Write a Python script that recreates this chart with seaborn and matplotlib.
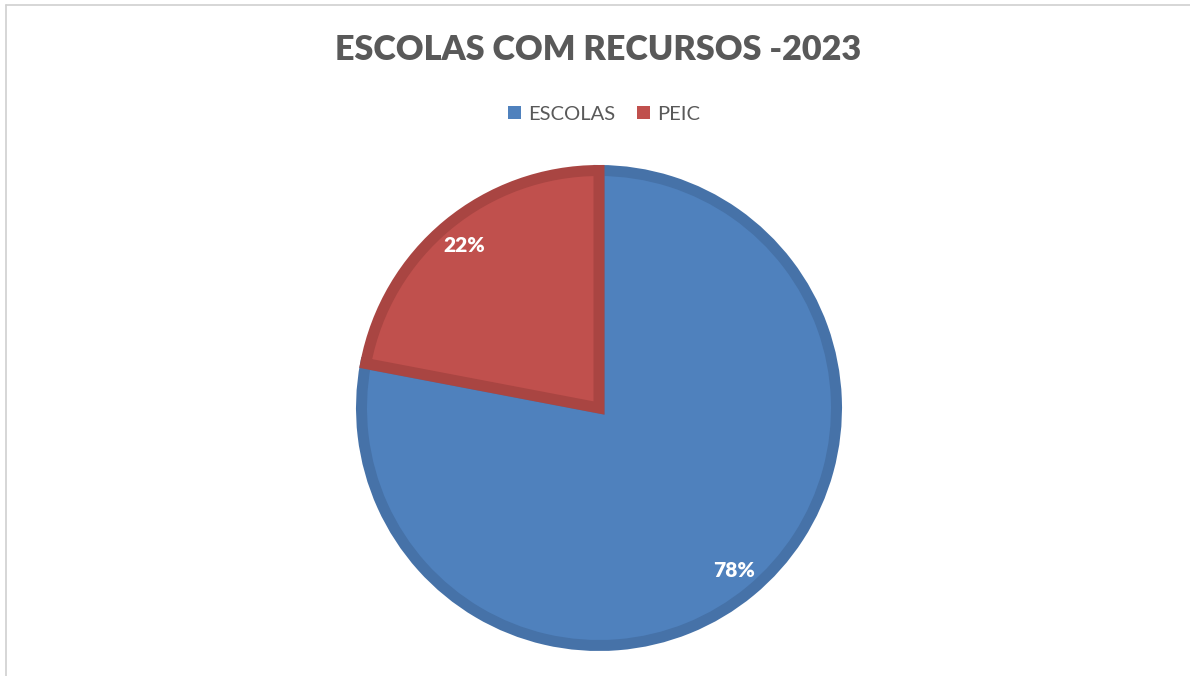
import matplotlib
matplotlib.use("Agg")
import matplotlib.pyplot as plt
import seaborn as sns
from matplotlib.lines import Line2D

categories = ["ESCOLAS", "PEIC"]
values = [78, 22]
title = "ESCOLAS COM RECURSOS -2023"

fill_colors = ["#4F81BD", "#C0504D"]
edge_colors = ["#4672A8", "#A94542"]

sns.set_theme(style="white")
plt.rcParams['font.family'] = ['Lato', 'DejaVu Sans']

W, H = 1190, 676
fig = plt.figure(figsize=(W / 100, H / 100), dpi=100)
fig.patch.set_facecolor("white")

cx, cy, R = 599, 408, 243
ax = fig.add_axes([(cx - R) / W, (H - cy - R) / H, 2 * R / W, 2 * R / H])

stroke_px = 11
r_path = (R - stroke_px / 2) / R
wedges, texts, autotexts = ax.pie(
    values, labels=None, colors=fill_colors, startangle=90, counterclock=False,
    radius=r_path, autopct="%.0f%%", pctdistance=0.87 / r_path,
    wedgeprops=dict(linewidth=stroke_px * 0.72, joinstyle="miter"),
    textprops=dict(color="white", fontsize=15, fontweight="heavy"),
)
for w, ec in zip(wedges, edge_colors):
    w.set_edgecolor(ec)
ax.set_xlim(-1, 1)
ax.set_ylim(-1, 1)
ax.set_aspect("equal")
ax.axis("off")

fig.text(598.5 / W, 1 - 50 / H, title, ha="center", va="center",
         fontsize=24.6, fontweight="heavy", color="#595959")

handles = [plt.Rectangle((0, 0), 1, 1, facecolor=c, edgecolor="none") for c in fill_colors]
fig.legend(handles, categories, loc="center", bbox_to_anchor=(604 / W, 1 - 114 / H),
           ncol=2, frameon=False, fontsize=14.5, labelcolor="#595959",
           handlelength=0.65, handleheight=0.65, handletextpad=0.35, columnspacing=1.1)

# chart frame (top and left edges visible)
fig.add_artist(Line2D([5.5 / W, 1.0], [1 - 4.5 / H, 1 - 4.5 / H], color="#D0D0D0", lw=1.2,
                      transform=fig.transFigure))
fig.add_artist(Line2D([5.5 / W, 5.5 / W], [0, 1 - 4.5 / H], color="#D0D0D0", lw=1.2,
                      transform=fig.transFigure))

fig.savefig("out.png", dpi=100, facecolor="white")
